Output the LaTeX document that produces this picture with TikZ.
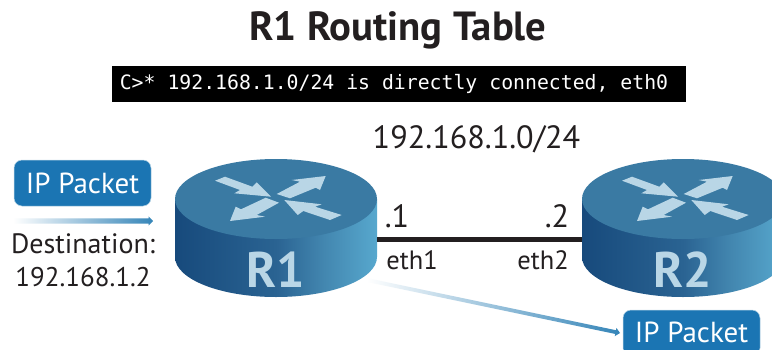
\documentclass[tikz,border=0pt]{standalone}
\usepackage{fontspec}
\setmainfont{PT Sans}
\setmonofont{DejaVu Sans Mono}
\usetikzlibrary{calc}
\definecolor{rside}{HTML}{3A7AA3}
\definecolor{rpale}{HTML}{B9D6E6}
\definecolor{pkt}{HTML}{1B75B3}
\definecolor{ink}{HTML}{231F20}
\definecolor{arr}{HTML}{3585B8}
\definecolor{rleft}{HTML}{174A7C}
\definecolor{rmid}{HTML}{2A6392}
\definecolor{rmid2}{HTML}{4387B0}
\definecolor{rright}{HTML}{57A8CE}
\pgfdeclarehorizontalshading{rshade}{100bp}{
 color(0bp)=(rleft); color(25bp)=(rleft); color(50bp)=(rmid); color(62bp)=(rmid2); color(75bp)=(rright); color(100bp)=(rright)}
\tikzset{
 lbl/.style={text=ink,inner sep=0pt,font=\fontsize{32.2}{36}\selectfont},
 sml/.style={text=ink,inner sep=0pt,font=\fontsize{26.5}{30}\selectfont},
 pfont/.style={font=\fontsize{29}{34}\selectfont},
 pbox/.style={fill=pkt,draw=rpale,line width=0.5pt,rounded corners=8pt},
 packet/.style={pbox,pfont,text=white,minimum width=137pt,minimum height=46pt,inner sep=0pt},
 rname/.style={text=rpale,inner sep=0pt,font=\fontsize{50}{56}\selectfont\bfseries},
}
% #1 x, #2 y (top ellipse centre), #3 name
\newcommand{\routerdraw}[3]{
 \begin{scope}[shift={(#1,#2)}]
  \shade[shading=rshade] (-101,0) -- (-101,58) arc[start angle=180,end angle=0,x radius=101,y radius=40] -- (101,0) -- cycle;
  \fill[rside] (0,0) ellipse[x radius=101,y radius=40];
  \fill[rpale] (-5,-2.3) -- (-19.3,-16.7) -- (-23.7,-12.3) -- (-51,-22.3) -- (-61,-18.3) -- (-36,-9) -- (-41.7,-5.7) -- cycle;
  \fill[rpale] (49.7,-23) -- (44,-9) -- (39.7,-11.3) -- (14,-0.7) -- (0.7,-5) -- (24,-17.3) -- (15.7,-19) -- cycle;
  \fill[rpale] (-46,22) -- (-40.3,7.7) -- (-35,10.3) -- (-10.3,-1.3) -- (3,3.7) -- (-19.3,16) -- (-11,17.7) -- cycle;
  \fill[rpale] (8.3,1) -- (45.7,5.3) -- (39,7.7) -- (65.7,16) -- (54,21) -- (27.3,12) -- (21.7,16) -- cycle;
  \node[rname] (#3) at (0,71) {#3};
 \end{scope}}
\newcommand{\gradarrow}[4]{% from, to, half width, half head width
 \coordinate (hb#1) at ($(#2)!4.5pt!(#1)$);
 \shade[left color=white,right color=arr]
  ($(#1)!#3!90:(#2)$) -- ($(hb#1)!#3!-90:(#1)$) -- ($(hb#1)!#4!-90:(#1)$) -- (#2)
  -- ($(hb#1)!#4!90:(#1)$) -- ($(hb#1)!#3!90:(#1)$) -- ($(#1)!#3!-90:(#2)$) -- cycle;}
\begin{document}
\begin{tikzpicture}[x=1pt,y=-1pt]
\useasboundingbox (0,0) rectangle (772,349);
\clip (0,0) rectangle (772,349);
\fill[white] (0,0) rectangle (772,349);
\node[text=ink,inner sep=0pt,font=\fontsize{40.7}{46}\selectfont\bfseries] (title) at (398,30) {R1 Routing Table};
\node[fill=black,text=white,minimum width=574pt,minimum height=36pt,inner sep=0pt,font=\fontsize{19.8}{22}\ttfamily] (rt) at (399,83.5) {C>* 192.168.1.0/24 is directly connected, eth0\kern10pt};
\node[lbl] (net) at (476.5,139) {192.168.1.0/24};
\routerdraw{276}{199}{R1}
\routerdraw{683}{199}{R2}
\coordinate (e1) at (377,239);
\coordinate (e2) at (582,239);
\draw[ink,line width=5pt] (e1) -- (e2);
\node[lbl] (d1) at (397,216) {.1};
\node[lbl] (d2) at (557,216) {.2};
\node[sml] (eth1) at (412,260) {eth1};
\node[sml] (eth2) at (543,260) {eth2};
\node[packet] (p1) at (82.5,183) {IP Packet};
\coordinate (s1) at (13,221);
\coordinate (t1) at (153,221);
\gradarrow{s1}{t1}{2.6pt}{4.6pt}
\node[lbl,font=\fontsize{28}{32}\selectfont] (dest) at (83,244) {Destination:};
\node[lbl,font=\fontsize{27}{32}\selectfont] (addr) at (83,277) {192.168.1.2};
\path[pbox] (623,356) rectangle (760,310);
\node[pfont,text=white,inner sep=0pt] (p2) at (691.5,332) {IP Packet};
\coordinate (s2) at (367,280);
\coordinate (t2) at (620,333);
\gradarrow{s2}{t2}{1.9pt}{4.2pt}
\end{tikzpicture}
\end{document}
